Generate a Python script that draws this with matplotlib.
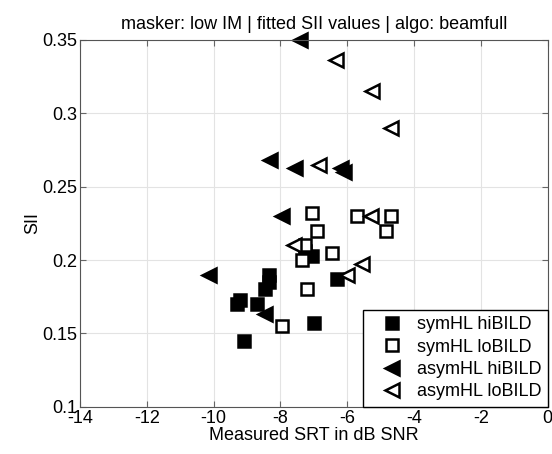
import matplotlib
matplotlib.use("Agg")
import matplotlib.pyplot as plt

plt.rcParams['font.family'] = ['Liberation Sans', 'DejaVu Sans']

# symHL hiBILD (filled squares)
sym_hi_x = [-7.25, -7.05, -6.3, -8.35, -8.35, -8.45, -9.3, -9.2, -8.7, -7.0, -9.1]
sym_hi_y = [0.206, 0.203, 0.187, 0.190, 0.185, 0.180, 0.170, 0.173, 0.170, 0.157, 0.145]

# symHL loBILD (open squares)
sym_lo_x = [-7.05, -6.9, -5.7, -4.7, -4.85, -7.25, -7.35, -6.45, -7.2, -7.95]
sym_lo_y = [0.232, 0.220, 0.230, 0.230, 0.220, 0.210, 0.200, 0.205, 0.180, 0.155]

# asymHL hiBILD (filled left triangles)
asym_hi_x = [-7.4, -8.3, -7.55, -6.2, -6.1, -7.95, -10.15, -8.45]
asym_hi_y = [0.350, 0.268, 0.263, 0.263, 0.260, 0.230, 0.190, 0.163]

# asymHL loBILD (open left triangles)
asym_lo_x = [-6.35, -5.25, -4.7, -6.85, -5.3, -7.6, -5.55, -6.0]
asym_lo_y = [0.336, 0.315, 0.290, 0.265, 0.230, 0.210, 0.197, 0.190]

xticks = [-14, -12, -10, -8, -6, -4, -2, 0]
yticks = [0.1, 0.15, 0.2, 0.25, 0.3, 0.35]

fig = plt.figure(figsize=(5.52, 4.54), dpi=100)
ax = fig.add_axes([0.145, 0.104, 0.847, 0.808])

ax.plot(sym_hi_x, sym_hi_y, 's', color='black', markersize=9, markeredgewidth=1.8,
        label='symHL hiBILD', clip_on=False)
ax.plot(sym_lo_x, sym_lo_y, 's', markerfacecolor='white', markeredgecolor='black',
        markersize=8.5, markeredgewidth=1.8, label='symHL loBILD', clip_on=False)
ax.plot(asym_hi_x, asym_hi_y, '<', color='black', markersize=10, markeredgewidth=1.8,
        label='asymHL hiBILD', clip_on=False)
ax.plot(asym_lo_x, asym_lo_y, '<', markerfacecolor='white', markeredgecolor='black',
        markersize=10, markeredgewidth=1.8, label='asymHL loBILD', clip_on=False)

ax.set_xlim(-14, 0)
ax.set_ylim(0.1, 0.35)
ax.set_xticks(xticks)
ax.set_yticks(yticks)
ax.set_xticklabels([str(t) for t in xticks])
ax.set_yticklabels(['0.1', '0.15', '0.2', '0.25', '0.3', '0.35'])
ax.grid(True, color='#e3e3e3', linewidth=0.8)
ax.set_axisbelow(True)
ax.tick_params(direction='in', top=True, right=True, labelsize=13, length=4,
               color='#666666', pad=2)
for s in ax.spines.values():
    s.set_color('#555555')

ax.set_xlabel('Measured SRT in dB SNR', fontsize=13, labelpad=0)
ax.set_ylabel('SII', fontsize=13, labelpad=1)
ax.set_title('masker: low IM | fitted SII values | algo: beamfull', fontsize=13, pad=8)

leg = ax.legend(loc='lower right', borderaxespad=0, fontsize=13, fancybox=False,
                edgecolor='black', framealpha=1, handletextpad=0.05, labelspacing=0.3,
                handlelength=2.6, borderpad=0.35)
leg.get_frame().set_linewidth(1.0)

fig.savefig('out.png', dpi=100)
